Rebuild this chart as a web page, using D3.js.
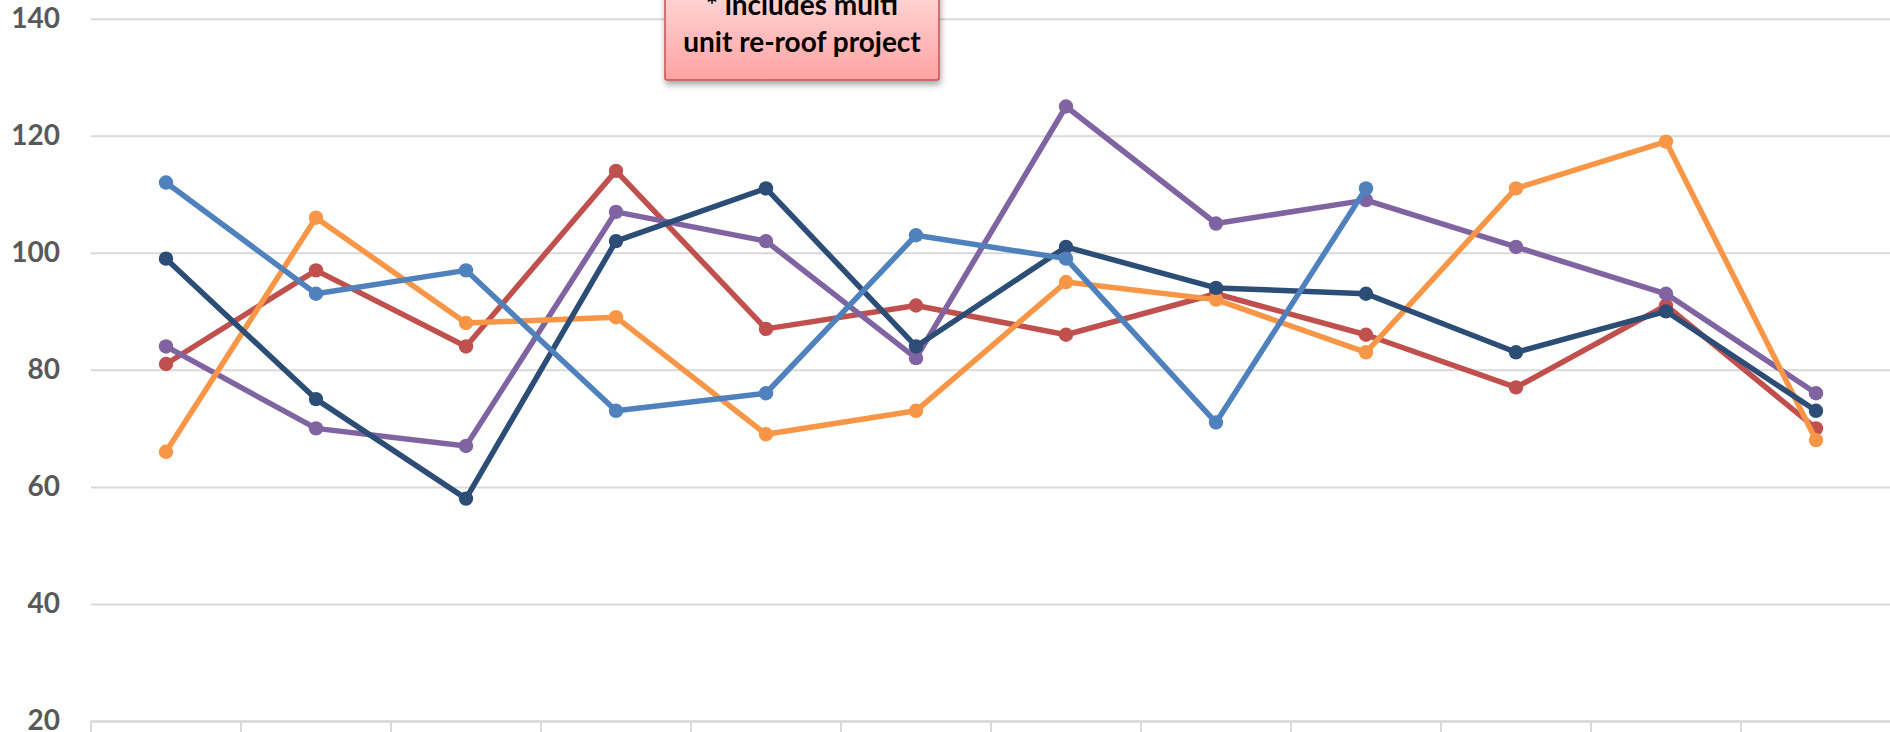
<!DOCTYPE html>
<html>
<head>
<meta charset="utf-8">
<script src="https://cdn.jsdelivr.net/npm/d3@7"></script>
<style>
  html, body { margin: 0; padding: 0; background: #fff; overflow: hidden; }
  svg { display: block; }
</style>
</head>
<body>
<div class="chartContainer"></div>
<script>
// months along the x axis (their labels fall below the visible crop)
var months = ["Jan", "Feb", "Mar", "Apr", "May", "Jun", "Jul", "Aug", "Sep", "Oct", "Nov", "Dec"];
var yTicks = [20, 40, 60, 80, 100, 120, 140];

var seriesA = [112, 93, 97, 73, 76, 103, 99, 71, 111, null, null, null];
var seriesB = [81, 97, 84, 114, 87, 91, 86, 93, 86, 77, 91, 70];
var seriesC = [84, 70, 67, 107, 102, 82, 125, 105, 109, 101, 93, 76];
var seriesD = [66, 106, 88, 89, 69, 73, 95, 92, 83, 111, 119, 68];
var seriesE = [99, 75, 58, 102, 111, 84, 101, 94, 93, 83, 90, 73];

var noteLines = ["* includes multi", "unit re-roof project"];

var w = 1890,
    h = 732;

var margin = {left: 91, right: -1, top: 18.7, bottom: 11};

// drawing order: bottom first
var series = [
    {name: "Series 2", values: seriesB, color: "#C0504D"},
    {name: "Series 3", values: seriesC, color: "#8064A2"},
    {name: "Series 4", values: seriesD, color: "#F79646"},
    {name: "Series 5", values: seriesE, color: "#2C4D75"},
    {name: "Series 1", values: seriesA, color: "#4F81BD"}
];

var canvas = d3.select(".chartContainer")
    .append("svg")
    .attr("width", w)
    .attr("height", h);

var x = d3.scaleBand()
    .domain(months)
    .range([margin.left, w - margin.right]);

var y = d3.scaleLinear()
    .domain([20, 140])
    .range([h - margin.bottom, margin.top]);

// gridlines + y labels
var yAxis = d3.axisLeft(y)
    .tickValues(yTicks)
    .tickSize(-(w - margin.right - margin.left))
    .tickPadding(31);

var gy = canvas.append("g")
    .attr("transform", "translate(" + margin.left + ",0)")
    .call(yAxis);
gy.select(".domain").remove();
gy.selectAll(".tick line")
    .attr("stroke", "#d9d9d9")
    .attr("stroke-width", 2);
gy.selectAll(".tick text")
    .attr("fill", "#595959")
    .style("font-family", "Lato, 'Open Sans', sans-serif")
    .style("font-weight", "bold")
    .style("font-size", "28px");

// category axis, ticks between the bands (labels are outside the crop)
var xAxis = d3.axisBottom(x)
    .tickSize(0)
    .tickFormat("");

var gx = canvas.append("g")
    .attr("transform", "translate(0," + y(20) + ")")
    .call(xAxis);
gx.selectAll(".tick").remove();
gx.select(".domain")
    .attr("stroke", "#d9d9d9")
    .attr("stroke-width", 2.5);

gx.selectAll(".boundary")
    .data(months.concat(["end"]))
    .enter()
    .append("line")
    .attr("class", "boundary")
    .attr("x1", function (d, i) { return x.range()[0] + i * x.step(); })
    .attr("x2", function (d, i) { return x.range()[0] + i * x.step(); })
    .attr("y1", 0)
    .attr("y2", 14)
    .attr("stroke", "#d9d9d9")
    .attr("stroke-width", 2);

// lines + markers
var line = d3.line()
    .defined(function (d) { return d != null; })
    .x(function (d, i) { return x(months[i]) + x.bandwidth() / 2; })
    .y(function (d) { return y(d); });

var groups = canvas.selectAll(".series")
    .data(series)
    .enter()
    .append("g")
    .attr("class", "series");

groups.append("path")
    .attr("d", function (s) { return line(s.values); })
    .attr("fill", "none")
    .attr("stroke", function (s) { return s.color; })
    .attr("stroke-width", 5.5)
    .attr("stroke-linejoin", "round");

groups.selectAll("circle")
    .data(function (s) {
        return s.values.map(function (v, i) { return {v: v, i: i, color: s.color}; })
            .filter(function (d) { return d.v != null; });
    })
    .enter()
    .append("circle")
    .attr("cx", function (d) { return x(months[d.i]) + x.bandwidth() / 2; })
    .attr("cy", function (d) { return y(d.v); })
    .attr("r", 7.2)
    .attr("fill", function (d) { return d.color; });

// callout note
var defs = canvas.append("defs");
var grad = defs.append("linearGradient")
    .attr("id", "noteFill")
    .attr("x1", 0).attr("y1", 0)
    .attr("x2", 0).attr("y2", 1);
grad.append("stop").attr("offset", "0%").attr("stop-color", "#ffe3e3");
grad.append("stop").attr("offset", "100%").attr("stop-color", "#ffa3a3");

var shadow = defs.append("filter")
    .attr("id", "noteShadow")
    .attr("x", "-10%").attr("y", "-10%")
    .attr("width", "130%").attr("height", "140%");
shadow.append("feDropShadow")
    .attr("dx", 1)
    .attr("dy", 4)
    .attr("stdDeviation", 3)
    .attr("flood-color", "#000")
    .attr("flood-opacity", 0.35);

var note = canvas.append("g");
note.append("rect")
    .attr("x", 665)
    .attr("y", -30)
    .attr("width", 274)
    .attr("height", 110)
    .attr("rx", 2)
    .attr("fill", "url(#noteFill)")
    .attr("stroke", "#c9514e")
    .attr("stroke-width", 1.5)
    .attr("filter", "url(#noteShadow)");

note.selectAll("text")
    .data(noteLines)
    .enter()
    .append("text")
    .attr("x", 802)
    .attr("y", function (d, i) { return 15 + i * 37; })
    .attr("text-anchor", "middle")
    .attr("fill", "#000")
    .style("font-family", "Lato, 'Open Sans', sans-serif")
    .style("font-weight", "bold")
    .style("font-size", "28px")
    .text(function (d) { return d; });
</script>
</body>
</html>
